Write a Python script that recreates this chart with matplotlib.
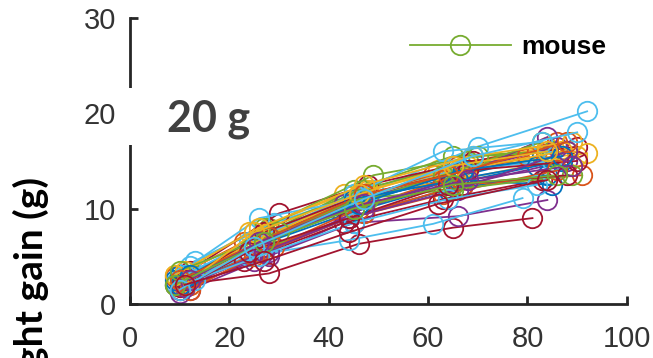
"""
Weight gain per mouse vs age, MATLAB-like look
"""
import numpy as np
from matplotlib import pyplot as plt
from matplotlib.patches import Rectangle

# age (days) of each weighing, one row per mouse
age_days = [
    [10, 25, 44, 63, 83], [11, 27, 46, 66, 86], [9, 24, 43, 62, 84], [12, 28, 47, 67, 88],
    [10, 26, 45, 65, 85], [13, 29, 49, 70, 92], [10, 28, 46, 65, 81], [11, 26, 44, 64, 84],
    [9, 23, 42, 61, 82], [12, 27, 46, 66, 90], [10, 25, 45, 66, 84], [11, 28, 47, 68, 89],
    [9, 24, 44, 61, 79], [12, 30, 48, 69, 90], [10, 27, 45, 65, 87], [11, 26, 47, 67, 91],
    [10, 28, 48, 68, 92], [9, 25, 43, 64, 86], [13, 27, 49, 70, 88], [12, 26, 46, 65, 85],
    [10, 23, 43, 63, 83], [9, 25, 44, 64, 82], [12, 29, 46, 63, 80], [11, 26, 45, 66, 87],
    [10, 28, 47, 67, 84], [9, 27, 48, 63, 83], [11, 24, 45, 63, 83], [11, 27, 47, 68, 90],
    [10, 28, 45, 66, 85], [12, 25, 44, 63, 86], [9, 26, 47, 69, 89], [11, 27, 44, 66, 88],
    [10, 30, 46, 65, 89], [13, 26, 45, 64, 82], [10, 24, 44, 64, 88], [12, 27, 46, 67, 87],
    [10, 28, 47, 64, 88], [11, 25, 46, 65, 84], [12, 26, 47, 68, 89], [9, 27, 45, 65, 86],
    [10, 25, 47, 69, 90], [11, 27, 44, 62, 84],
]
# weight gain (g) at each weighing
weight_gain = [
    [2.5, 6.0, 10.5, 13.0, 15.5], [2.0, 6.5, 11.0, 14.5, 17.0], [3.0, 7.5, 11.5, 14.0, 16.5],
    [1.5, 5.0, 9.5, 12.5, 15.0], [2.5, 7.0, 12.0, 15.5, 16.0], [4.5, 8.5, 12.0, 16.5, 20.2],
    [2.0, 3.2, 6.3, 8.0, 9.0], [2.0, 5.5, 9.0, 12.0, 13.5], [2.8, 6.5, 10.0, 13.5, 16.0],
    [2.0, 7.0, 11.5, 13.0, 15.5], [1.5, 4.5, 8.5, 9.2, 10.9], [2.5, 8.0, 12.0, 15.0, 14.5],
    [2.2, 5.0, 6.7, 8.4, 11.1], [3.5, 9.5, 12.5, 15.0, 16.5], [3.0, 6.5, 10.0, 13.0, 15.0],
    [1.8, 5.5, 9.5, 12.5, 13.5], [2.2, 7.5, 12.0, 14.5, 15.8], [2.0, 6.0, 10.5, 13.5, 16.5],
    [3.0, 8.0, 13.5, 15.5, 16.0], [4.0, 9.0, 11.0, 14.0, 15.0], [1.8, 4.5, 8.5, 11.0, 13.0],
    [2.5, 6.0, 9.5, 12.5, 14.5], [2.0, 6.0, 10.0, 13.0, 15.5], [3.5, 7.0, 11.0, 14.0, 16.0],
    [1.2, 5.5, 10.0, 13.5, 17.5], [2.0, 6.5, 11.0, 13.5, 17.0], [3.0, 6.5, 11.5, 16.0, 17.0],
    [2.5, 7.5, 11.5, 14.0, 15.0], [2.0, 7.0, 11.0, 13.0, 12.5], [1.5, 5.0, 9.0, 11.5, 14.0],
    [3.0, 8.0, 12.5, 15.5, 17.0], [1.8, 5.5, 9.0, 12.0, 16.0], [3.5, 7.5, 11.0, 12.0, 13.5],
    [2.5, 5.0, 8.5, 11.0, 12.5], [1.5, 5.5, 9.0, 12.5, 13.5], [3.0, 6.5, 10.5, 14.0, 15.5],
    [2.5, 7.0, 11.5, 13.5, 17.0], [2.0, 7.5, 11.5, 14.5, 16.0], [2.5, 6.5, 10.5, 13.0, 14.5],
    [2.0, 6.5, 10.0, 12.5, 13.5], [1.5, 6.0, 11.0, 15.5, 18.0], [2.0, 4.5, 7.5, 10.5, 13.0],
]
x_ticks = [0, 20, 40, 60, 80, 100]
y_ticks = [0, 10, 20, 30]

# matlab default color order
matlab_colors = ["#0072BD", "#D95319", "#EDB120", "#7E2F8E", "#77AC30", "#4DBEEE", "#A2142F"]
axis_color = "#262626"


def main():
    fig = plt.figure(figsize=(6.53, 3.58), dpi=100)
    ax = fig.add_axes([0.199, 0.151, 0.761, 0.799])

    lines = []
    for i in range(len(age_days)):
        ln, = ax.plot(age_days[i], weight_gain[i], "-o", color=matlab_colors[i % 7],
                      linewidth=1.3, markersize=14, markerfacecolor="none", markeredgewidth=1.3)
        lines.append(ln)

    ax.set_xlim(0, 100)
    ax.set_ylim(0, 30)
    ax.set_xticks(x_ticks)
    ax.set_yticks(y_ticks)
    for side in ["top", "right"]:
        ax.spines[side].set_visible(False)
    for side in ["left", "bottom"]:
        ax.spines[side].set_linewidth(2)
        ax.spines[side].set_color(axis_color)
    ax.tick_params(direction="in", length=6, width=2, color=axis_color,
                   labelsize=21, labelcolor="#333333")
    ax.tick_params(axis="x", pad=15)
    ax.tick_params(axis="y", pad=10)
    for lab in ax.get_xticklabels() + ax.get_yticklabels():
        lab.set_family("Liberation Sans")

    # legend uses the green mouse line
    ax.legend([lines[4]], ["mouse"], loc="upper right", bbox_to_anchor=(1.006, 1.022),
              frameon=False, handlelength=3.8, handletextpad=0.4,
              prop={"family": "Liberation Sans", "weight": "bold", "size": 19})

    # white patch over the spine where the "20 g" box was pasted
    ax.add_patch(Rectangle((-0.02, 0.555), 0.04, 0.2, transform=ax.transAxes,
                           facecolor="white", edgecolor="none", clip_on=False, zorder=3))
    fig.text(167 / 653, 1 - 132 / 358, "20 g", fontsize=31, fontweight="bold",
             color="#404040", family="Lato", ha="left", va="baseline")

    fig.text(31 / 653, 1 - 177 / 358, "weight gain (g)", rotation=90, fontsize=28,
             fontweight="bold", family="Lato", color="black", ha="center", va="top")

    fig.savefig("out.png", dpi=100)
    return 0


if __name__ == "__main__":
    main()
